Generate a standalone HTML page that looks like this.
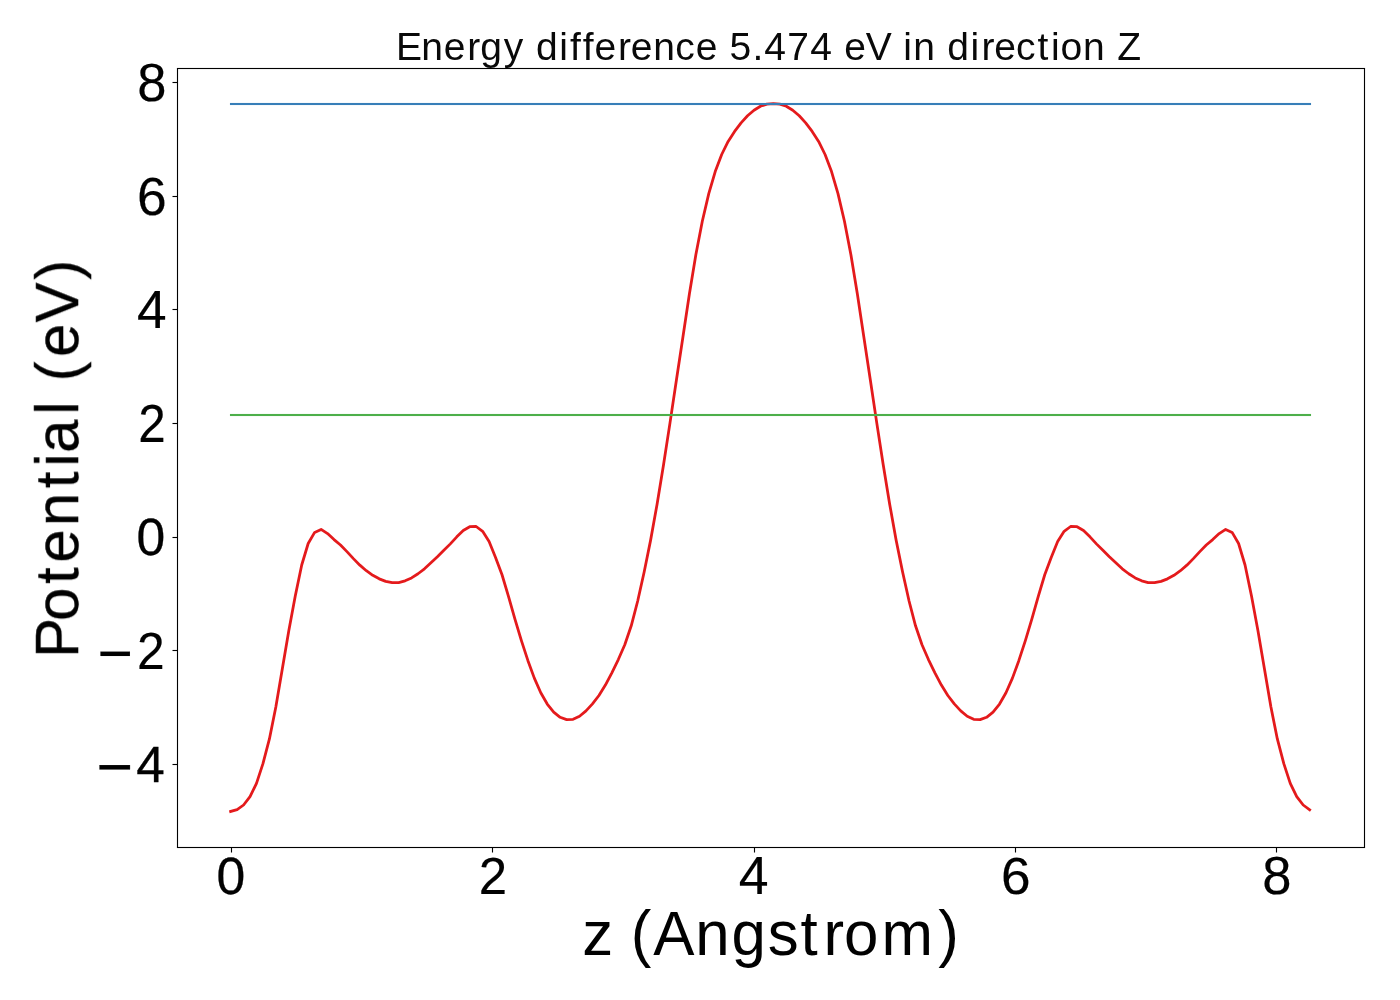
<!DOCTYPE html>
<html lang="en">
<head>
<meta charset="utf-8">
<title>Energy difference 5.474 eV in direction Z</title>
<style>
html,body{margin:0;padding:0;background:#fff;}
svg{display:block;}
text{font-family:"Liberation Sans",sans-serif;font-size:40px;fill:#000;}
</style>
</head>
<body>
<svg width="1400" height="1000" viewBox="0 0 1400 1000">
<rect x="0" y="0" width="1400" height="1000" fill="#fff"/>
<!-- potential curve -->
<polyline fill="none" stroke="#e41a1c" stroke-width="2.78" stroke-linejoin="round" stroke-linecap="square" points="230.65,811.45 237.11,809.7 243.57,805 250.03,796.6 256.49,783.43 262.96,763.63 269.42,738.9 275.88,706.78 282.34,668.81 288.8,630.79 295.26,596.06 301.72,564.98 308.18,543.5 314.64,532.4 321.11,529.4 327.57,533.6 334.03,539.6 340.49,545 346.95,551.62 353.41,558.63 359.87,565.17 366.33,570.73 372.79,575.28 379.25,578.84 385.72,581.4 392.18,582.67 398.64,582.55 405.1,580.83 411.56,577.9 418.02,573.75 424.48,568.8 430.94,562.83 437.4,556.84 443.87,550.35 450.33,543.87 456.79,536.85 463.25,530.5 469.71,526.7 476.17,526.5 482.63,531.3 489.09,541.5 495.55,557.5 502.02,574.77 508.48,596.37 514.94,619.18 521.4,640.56 527.86,660.4 534.32,678.13 540.78,692.72 547.24,704.03 553.7,712.13 560.16,717.3 566.63,719.65 573.09,719.3 579.55,716.24 586.01,710.84 592.47,703.92 598.93,695.47 605.39,685.03 611.85,672.78 618.31,659.56 624.78,644.8 631.24,625.81 637.7,601.01 644.16,572.04 650.62,540.13 657.08,504.19 663.54,464.83 670,422.86 676.46,379.83 682.93,337 689.39,294 695.85,254.8 702.31,221.2 708.77,193.6 715.23,171.6 721.69,154.5 728.15,141.4 734.61,131.4 741.08,122.9 747.54,115.8 754,110.2 760.46,106.2 766.92,104.1 773.38,103.6 779.84,104.1 786.3,106.2 792.76,110.2 799.22,115.8 805.69,122.9 812.15,131.4 818.61,141.4 825.07,154.5 831.53,171.6 837.99,193.6 844.45,221.2 850.91,254.8 857.37,294 863.84,337 870.3,379.83 876.76,422.86 883.22,464.83 889.68,504.19 896.14,540.13 902.6,572.04 909.06,601.01 915.52,625.81 921.99,644.8 928.45,659.56 934.91,672.78 941.37,685.03 947.83,695.47 954.29,703.92 960.75,710.84 967.21,716.24 973.67,719.3 980.14,719.65 986.6,717.3 993.06,712.13 999.52,704.03 1005.98,692.72 1012.44,678.13 1018.9,660.4 1025.36,640.56 1031.82,619.18 1038.28,596.37 1044.75,574.77 1051.21,557.5 1057.67,541.5 1064.13,531.3 1070.59,526.5 1077.05,526.7 1083.51,530.5 1089.97,536.85 1096.43,543.87 1102.9,550.35 1109.36,556.84 1115.82,562.83 1122.28,568.8 1128.74,573.75 1135.2,577.9 1141.66,580.83 1148.12,582.55 1154.58,582.67 1161.05,581.4 1167.51,578.84 1173.97,575.28 1180.43,570.73 1186.89,565.17 1193.35,558.63 1199.81,551.62 1206.27,545 1212.73,539.6 1219.19,533.6 1225.66,529.4 1232.12,532.4 1238.58,543.5 1245.04,564.98 1251.5,596.06 1257.96,630.79 1264.42,668.81 1270.88,706.78 1277.34,738.9 1283.81,763.63 1290.27,783.43 1296.73,796.6 1303.19,805 1309.65,809.7"/>
<!-- max / reference levels -->
<rect x="229.96" y="102.958" width="1081.08" height="2.084" fill="#377eb8"/>
<rect x="229.96" y="413.958" width="1081.08" height="2.084" fill="#4daf4a"/>
<!-- ticks -->
<g fill="#000">
<rect x="230.945" y="847.5" width="1.111" height="5"/>
<rect x="491.945" y="847.5" width="1.111" height="5"/>
<rect x="753.944" y="847.5" width="1.111" height="5"/>
<rect x="1014.944" y="847.5" width="1.111" height="5"/>
<rect x="1275.945" y="847.5" width="1.111" height="5"/>
<rect x="172.5" y="81.945" width="5" height="1.111"/>
<rect x="172.5" y="195.945" width="5" height="1.111"/>
<rect x="172.5" y="308.945" width="5" height="1.111"/>
<rect x="172.5" y="422.945" width="5" height="1.111"/>
<rect x="172.5" y="536.944" width="5" height="1.111"/>
<rect x="172.5" y="649.944" width="5" height="1.111"/>
<rect x="172.5" y="763.944" width="5" height="1.111"/>
</g>
<!-- axes frame -->
<g fill="#000">
<rect x="176.945" y="67.945" width="1188.11" height="1.11"/>
<rect x="176.945" y="846.945" width="1188.11" height="1.11"/>
<rect x="176.945" y="68.5" width="1.11" height="779"/>
<rect x="1363.945" y="68.5" width="1.11" height="779"/>
</g>
<!-- text -->
<g opacity="0.999">
<text transform="matrix(0.9761 0 0 0.9642 3.853 60)" x="401.69 427.56 450.68 474.75 488.1 512.13 532 545.28 569.08 580.08 593.11 605.06 629.13 642.23 665.35 687.86 708.82 729.29 743.53 766.89 779 802.47 826.11 846.94 861.02 882.98 908.58 921.37 931.63 951.26 966.58 990.39 1001.59 1014.68 1036.85 1059.07 1072.71 1082.49 1105.62 1125.25 1140.62" y="0" style="fill:#090909">Energy difference 5.474 eV in direction Z</text>
<text transform="matrix(1.5461 0 0 1.5672 4.094 955)" x="374.03 392.09 405.25 419.95 446.96 470.52 493.88 515.13 529.95 543.18 567.57 604.14" y="0">z (Angstrom)</text>
<text transform="matrix(0 -1.5011 1.5443 0 78 650.232)" x="-5.17 19.47 44.06 58.28 82.61 107.97 122.25 131.45 156.92 163.12 179.08 195.28 218.28 246.89" y="0" stroke="#000" stroke-width="0.164">Potential (eV)</text>
<text transform="matrix(1.2907 0 0 1.3143 1.155 894)" x="166.88" y="0" stroke="#000" stroke-width="0.237">0</text>
<text transform="matrix(1.2746 0 0 1.3073 -4.425 894)" x="379.13" y="0" stroke="#000" stroke-width="0.116">2</text>
<text transform="matrix(1.3395 0 0 1.3398 -0.5 894)" x="551.81" y="0" stroke="#000" stroke-width="0.141">4</text>
<text transform="matrix(1.3275 0 0 1.2996 19.83 894)" x="739.17" y="0" stroke="#000" stroke-width="0.172">6</text>
<text transform="matrix(1.312 0 0 1.3486 19.398 894)" x="947.21" y="0" stroke="#000" stroke-width="0.142">8</text>
<text transform="matrix(1.312 0 0 1.3486 2.279 101)" x="102.92" y="0" stroke="#000" stroke-width="0.142">8</text>
<text transform="matrix(1.3342 0 0 1.3195 1.788 215)" x="101.32" y="0" stroke="#000" stroke-width="0.172">6</text>
<text transform="matrix(1.3296 0 0 1.3231 0 328)" x="103.02" y="0" stroke="#000" stroke-width="0.173">4</text>
<text transform="matrix(1.2348 0 0 1.3453 5.048 442)" x="107.97" y="0" stroke="#000" stroke-width="0.146">2</text>
<text transform="matrix(1.2907 0 0 1.2946 1.003 555)" x="104.98" y="0" stroke="#000" stroke-width="0.237">0</text>
<text transform="matrix(1.2439 0 0 1.2952 -1.815 669)" stroke="#000" stroke-width="0.119"><tspan font-size="48.8" x="79.91" y="4.43">−</tspan><tspan x="111.54" y="0">2</tspan></text>
<text transform="matrix(1.2812 0 0 1.2687 -2.324 782)" stroke="#000" stroke-width="0.244"><tspan font-size="48.8" x="77.11" y="4.39">−</tspan><tspan x="108.21" y="0">4</tspan></text>
</g>
</svg>
</body>
</html>
